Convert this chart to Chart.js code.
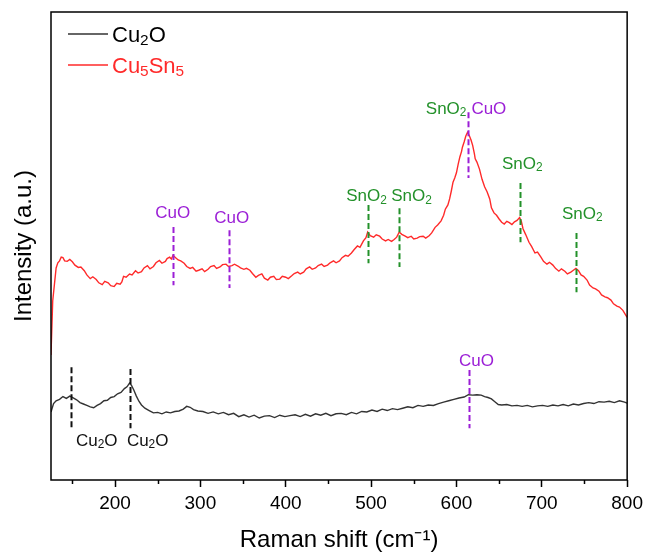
<!DOCTYPE html>
<html>
<head>
<meta charset="utf-8">
<script src="https://cdn.jsdelivr.net/npm/chart.js@4.4.1/dist/chart.umd.min.js"></script>
<style>
  html, body { margin: 0; padding: 0; background: #fff; }
  #wrap { width: 648px; height: 552px; position: relative; }
</style>
</head>
<body>
<div id="wrap"><canvas id="c"></canvas></div>
<script>
// ---------- DATA ----------
const seriesNames = ["Cu2O", "Cu5Sn5"];

// [Raman shift (cm-1), intensity (a.u.)]
const cu2oSpectrum = [[125,14.2],[128,16.0],[131,16.6],[135,16.9],[139,17.5],[143,17.1],[147,17.6],[151,17.2],[155,16.8],[159,16.2],[163,15.9],[167,15.6],[171,15.3],[175,15.1],[179,15.6],[183,16.0],[187,16.6],[191,16.7],[195,17.3],[199,17.5],[203,18.1],[207,18.4],[211,19.2],[214,19.6],[217,20.4],[219,20.0],[222,18.9],[225,17.6],[228,16.5],[231,15.7],[235,15.0],[240,14.5],[245,14.0],[250,14.1],[255,13.8],[260,14.2],[265,14.0],[270,14.3],[275,14.4],[280,14.8],[284,15.4],[288,15.2],[292,14.7],[297,14.4],[303,14.3],[309,13.9],[315,14.2],[321,13.8],[327,14.1],[333,13.6],[339,13.9],[345,13.2],[351,13.6],[357,13.1],[363,13.5],[369,12.9],[375,13.3],[381,13.4],[387,13.0],[393,13.5],[399,13.2],[405,13.4],[411,13.6],[417,13.2],[423,13.7],[429,13.3],[435,13.8],[441,13.5],[447,13.9],[453,13.4],[459,13.8],[465,13.9],[471,13.6],[477,14.1],[483,13.8],[489,14.3],[495,14.2],[501,14.6],[507,14.3],[513,14.8],[519,14.5],[525,14.9],[531,14.7],[537,15.0],[543,15.3],[549,15.1],[555,15.6],[561,15.4],[567,15.7],[573,15.6],[579,16.0],[585,16.3],[591,16.6],[597,16.9],[603,17.2],[609,17.4],[614,17.9],[619,17.8],[624,17.9],[629,17.8],[633,17.5],[637,17.3],[641,17.0],[645,16.4],[649,15.8],[653,15.7],[659,15.8],[665,15.5],[671,15.6],[677,15.4],[683,15.6],[689,15.3],[695,15.5],[701,15.6],[707,15.4],[713,15.7],[719,15.5],[725,15.8],[731,15.5],[737,15.9],[743,15.7],[749,16.0],[755,16.2],[761,16.0],[767,16.4],[773,16.3],[779,16.5],[785,16.2],[791,16.6],[797,16.3],[800,16.1]];

const cu5sn5Spectrum = [[125,26.4],[127,38.0],[131,45.1],[133,46.2],[135,46.6],[137,47.4],[139,47.3],[141,46.6],[144,46.5],[147,46.9],[150,46.4],[153,45.7],[157,45.2],[160,45.3],[164,44.5],[167,43.6],[171,42.8],[174,43.2],[178,42.6],[181,41.9],[185,41.5],[188,42.2],[192,41.9],[195,41.3],[199,41.1],[202,41.8],[206,41.6],[208,42.1],[210,43.3],[213,43.1],[217,43.8],[220,43.6],[224,44.5],[227,44.0],[231,44.3],[234,45.1],[238,45.6],[241,44.9],[245,45.4],[248,46.2],[252,46.7],[255,46.1],[259,46.5],[261,47.1],[264,47.4],[266,47.0],[268,47.8],[271,47.3],[274,46.8],[277,46.6],[281,46.1],[284,45.4],[288,45.0],[291,45.2],[295,44.4],[298,44.6],[302,44.9],[305,44.3],[309,44.8],[312,45.4],[316,45.6],[319,45.0],[323,45.3],[326,45.8],[330,45.9],[333,45.4],[337,45.6],[340,45.9],[344,45.5],[347,45.1],[351,44.8],[354,45.0],[358,44.6],[361,43.9],[365,43.1],[368,43.5],[372,43.8],[375,42.9],[379,42.5],[382,43.1],[386,43.3],[389,42.6],[393,42.7],[396,43.3],[400,43.1],[403,42.8],[407,43.4],[410,43.9],[414,44.2],[417,43.8],[421,44.2],[424,44.9],[428,45.3],[431,44.8],[435,45.1],[438,45.6],[442,45.9],[445,45.4],[449,45.7],[452,46.2],[456,46.6],[459,46.2],[463,46.6],[466,47.3],[470,47.8],[473,47.6],[477,48.3],[480,49.0],[484,49.8],[487,49.5],[491,50.9],[494,51.6],[496,52.8],[499,52.0],[503,51.7],[506,52.2],[510,51.9],[513,51.3],[517,50.9],[520,51.2],[524,50.8],[527,51.2],[530,51.7],[533,52.8],[536,52.3],[540,51.9],[543,51.6],[547,51.9],[550,51.3],[554,51.5],[557,51.8],[561,51.9],[564,51.5],[568,52.0],[571,52.6],[575,53.8],[578,54.3],[582,55.2],[585,56.4],[587,57.7],[590,58.6],[592,59.9],[594,61.6],[596,63.5],[598,64.4],[600,65.5],[602,67.3],[604,68.9],[606,70.1],[607,71.0],[609,72.1],[611,73.4],[613,74.2],[615,73.5],[617,72.6],[619,71.4],[621,69.6],[622,68.5],[624,67.8],[627,66.3],[630,64.1],[633,62.5],[636,61.4],[639,59.9],[641,58.0],[644,56.9],[647,56.4],[650,55.6],[653,54.9],[656,54.5],[659,55.1],[662,54.8],[665,54.4],[668,55.0],[671,55.3],[674,55.9],[676,55.1],[678,53.5],[681,52.3],[685,50.6],[688,49.7],[692,48.3],[695,48.5],[699,47.4],[702,46.5],[706,45.9],[709,46.3],[713,45.7],[716,45.0],[720,44.4],[723,44.9],[727,44.4],[730,43.8],[734,44.2],[737,44.6],[740,45.0],[743,44.5],[746,43.6],[749,43.3],[753,42.5],[756,41.4],[760,40.8],[763,40.6],[767,40.1],[770,39.3],[774,38.9],[777,38.7],[781,38.2],[784,37.4],[788,36.9],[791,36.7],[795,36.0],[798,35.1],[800,34.5]];

const xTickValues = [200,300,400,500,600,700,800];
const xMinorTickValues = [150,250,350,450,550,650,750];

// peak markers (dashed lines): Raman shift, top/bottom intensity, phase
const markerShift  = [148, 218, 268, 333, 496, 533, 613, 674, 740, 615];
const markerTop    = [23.8, 23.4, 53.9, 53.2, 58.6, 57.9, 78.5, 63.3, 52.6, 23.2];
const markerBottom = [10.9, 10.7, 41.4, 40.8, 46.1, 45.3, 64.4, 50.6, 39.9, 10.7];
const markerPhase  = ["Cu2O","Cu2O","CuO","CuO","SnO2","SnO2","CuO","SnO2","SnO2","CuO"];

// peak labels: text, Raman shift, intensity, anchor
const labelText   = ["Cu2O","Cu2O","CuO","CuO","CuO","SnO2","SnO2","SnO2","CuO","SnO2","SnO2"];
const labelShift  = [154.2, 213.9, 623.4, 267.7, 336.7, 494.7, 547.3, 611.7, 617.5, 677.2, 747.4];
const labelValue  = [8.2, 8.2, 25.3, 57.1, 56.0, 60.7, 60.7, 79.4, 79.4, 67.6, 56.9];
const labelAnchor = ["left","left","center","center","center","center","center","right","left","center","center"];

// ---------- STYLE ----------
const FONT = "'Liberation Sans', Arial, Helvetica, sans-serif";
const seriesColors = ["#333333", "#ff2a2a"];
const legendTextColors = ["#000000", "#ff2a2a"];
const phaseColors = { "Cu2O": "#111111", "CuO": "#9b1fd6", "SnO2": "#23912a" };

function richParts(str) {
  const parts = [];
  const re = /(\d+)|(\D+)/g;
  let m;
  while ((m = re.exec(str)) !== null) parts.push({ t: m[0], sub: !!m[1] });
  return parts;
}
function drawRich(ctx, str, x, yCenter, size, anchor, color) {
  const parts = richParts(str);
  const subSize = size * 0.7;
  let w = 0;
  parts.forEach(p => {
    ctx.font = (p.sub ? subSize : size) + "px " + FONT;
    p.w = ctx.measureText(p.t).width;
    w += p.w;
  });
  let sx = x;
  if (anchor === "center") sx = x - w / 2;
  else if (anchor === "right") sx = x - w;
  const base = yCenter + size * 0.36;
  ctx.fillStyle = color;
  ctx.textBaseline = "alphabetic";
  ctx.textAlign = "left";
  parts.forEach(p => {
    ctx.font = (p.sub ? subSize : size) + "px " + FONT;
    ctx.fillText(p.t, sx, p.sub ? base + size * 0.13 : base);
    sx += p.w;
  });
}

const decorPlugin = {
  id: "decor",
  afterDatasetsDraw(chart) {
    const { ctx, chartArea: a, scales: { x, y } } = chart;
    ctx.save();
    ctx.lineWidth = 2;
    ctx.setLineDash([6, 3]);
    markerShift.forEach((s, i) => {
      const px = Math.round(x.getPixelForValue(s)) + 0.5;
      ctx.strokeStyle = phaseColors[markerPhase[i]];
      ctx.beginPath();
      ctx.moveTo(px, y.getPixelForValue(markerTop[i]));
      ctx.lineTo(px, y.getPixelForValue(markerBottom[i]));
      ctx.stroke();
    });
    ctx.setLineDash([]);
    labelText.forEach((t, i) => {
      drawRich(ctx, t, x.getPixelForValue(labelShift[i]), y.getPixelForValue(labelValue[i]),
               17, labelAnchor[i], phaseColors[t]);
    });
    ctx.strokeStyle = "#000";
    ctx.lineWidth = 1.5;
    ctx.strokeRect(a.left, a.top, a.right - a.left, a.bottom - a.top);
    xMinorTickValues.forEach(v => {
      const px = Math.round(x.getPixelForValue(v)) + 0.5;
      ctx.beginPath();
      ctx.moveTo(px, a.bottom);
      ctx.lineTo(px, a.bottom + 4);
      ctx.stroke();
    });
    const legY = [34, 65];
    chart.data.datasets.forEach((ds, i) => {
      ctx.strokeStyle = ds.borderColor;
      ctx.lineWidth = 1.6;
      ctx.beginPath();
      ctx.moveTo(68, legY[i]);
      ctx.lineTo(108, legY[i]);
      ctx.stroke();
      drawRich(ctx, seriesNames[i], 112, legY[i], 22, "left", legendTextColors[i]);
    });
    ctx.restore();
  }
};

const toXY = arr => arr.map(p => ({ x: p[0], y: p[1] }));

new Chart(document.getElementById("c"), {
  type: "line",
  data: {
    datasets: [
      { label: "Cu₂O", data: toXY(cu2oSpectrum), borderColor: seriesColors[0],
        borderWidth: 1.4, pointRadius: 0, tension: 0, fill: false },
      { label: "Cu₅Sn₅", data: toXY(cu5sn5Spectrum), borderColor: seriesColors[1],
        borderWidth: 1.4, pointRadius: 0, tension: 0, fill: false }
    ]
  },
  options: {
    responsive: true,
    maintainAspectRatio: false,
    animation: false,
    devicePixelRatio: 1,
    layout: { padding: { top: 12, right: 20, left: 0, bottom: 0 } },
    plugins: { legend: { display: false }, tooltip: { enabled: false } },
    scales: {
      x: {
        type: "linear",
        min: 125, max: 800,
        afterFit(s) { s.height = 72; },
        afterBuildTicks(s) { s.ticks = xTickValues.map(v => ({ value: v })); },
        border: { display: false },
        grid: { display: true, drawOnChartArea: false, drawTicks: true, tickLength: 7,
                tickWidth: 1.5, tickColor: "#000" },
        ticks: { autoSkip: false, maxRotation: 0, padding: 5, color: "#000",
                 font: { family: FONT, size: 19 } },
        title: { display: true, text: "Raman shift (cm⁻¹)", color: "#000",
                 font: { family: FONT, size: 24, lineHeight: 1 }, padding: { top: 0, bottom: 0 } }
      },
      y: {
        min: -0.4, max: 100,
        afterFit(s) { s.width = 51; },
        border: { display: false },
        grid: { display: false },
        ticks: { display: false },
        title: { display: true, text: "Intensity (a.u.)", color: "#000",
                 font: { family: FONT, size: 24, lineHeight: 1 }, padding: { top: 12, bottom: 0 } }
      }
    }
  },
  plugins: [decorPlugin]
});
</script>
</body>
</html>
